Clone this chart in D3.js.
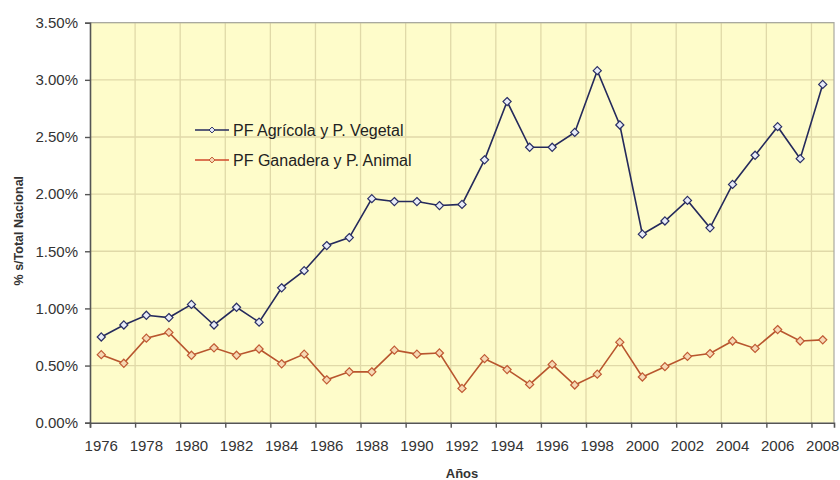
<!DOCTYPE html>
<html>
<head>
<meta charset="utf-8">
<script src="https://cdn.jsdelivr.net/npm/d3@7"></script>
<style>
  body { margin: 0; background: #fff; }
  svg text { font-family: "Liberation Sans", Arial, sans-serif; }
</style>
</head>
<body>
<div id="chart"></div>
<script>
// Data_____________________________________________________
const years = d3.range(1976, 2009);
const agricola = [0.75, 0.855, 0.94, 0.92, 1.035, 0.855, 1.01, 0.88, 1.18, 1.33,
  1.55, 1.62, 1.96, 1.935, 1.935, 1.9, 1.91, 2.30, 2.81, 2.41,
  2.41, 2.54, 3.08, 2.605, 1.65, 1.765, 1.945, 1.705, 2.085, 2.34,
  2.59, 2.31, 2.96];
const ganadera = [0.595, 0.52, 0.74, 0.79, 0.59, 0.655, 0.59, 0.645, 0.515, 0.6,
  0.375, 0.445, 0.445, 0.635, 0.6, 0.61, 0.30, 0.56, 0.465, 0.335,
  0.51, 0.33, 0.425, 0.705, 0.40, 0.49, 0.58, 0.605, 0.715, 0.65,
  0.815, 0.715, 0.725];
const seriesNames = ['PF Agrícola y P. Vegetal', 'PF Ganadera y P. Animal'];
const yTicks = [0, 0.5, 1, 1.5, 2, 2.5, 3, 3.5];

// Sizes_____________________________________________________
const width = 840;
const height = 480;
const plotLeft = 90, plotRight = 834, plotTop = 22.7, plotBottom = 422.7;

const svg = d3.select('#chart')
  .append('svg')
  .attr('width', width)
  .attr('height', height);

const x = d3.scaleBand().domain(years).range([plotLeft, plotRight]).padding(0);
const xEdge = d3.scaleLinear().domain([0, years.length]).range([plotLeft, plotRight]);
const y = d3.scaleLinear().domain([0, 3.5]).range([plotBottom, plotTop]);

// Plot area
svg.append('rect')
  .attr('x', plotLeft).attr('y', plotTop)
  .attr('width', plotRight - plotLeft).attr('height', plotBottom - plotTop)
  .attr('fill', '#fefcca');

// Grid
svg.append('g')
  .selectAll('line')
  .data(yTicks.slice(1))
  .enter().append('line')
  .attr('x1', plotLeft).attr('x2', plotRight)
  .attr('y1', d => y(d)).attr('y2', d => y(d))
  .attr('stroke', '#e0d9a8').attr('stroke-width', 1.3);

const edgeTicks = d3.range(2, years.length, 2);
svg.append('g')
  .selectAll('line')
  .data(edgeTicks)
  .enter().append('line')
  .attr('x1', d => xEdge(d)).attr('x2', d => xEdge(d))
  .attr('y1', plotTop).attr('y2', plotBottom)
  .attr('stroke', '#e0d9a8').attr('stroke-width', 1.3);

// Border top / right
svg.append('path')
  .attr('d', `M${plotLeft},${plotTop}H${plotRight}V${plotBottom}`)
  .attr('fill', 'none')
  .attr('stroke', '#a9a9a0').attr('stroke-width', 1.2);

// Y axis
const yAxis = svg.append('g')
  .attr('transform', `translate(${plotLeft},0)`)
  .call(d3.axisLeft(y).tickValues(yTicks).tickSize(5).tickPadding(7)
    .tickFormat(d => d.toFixed(2) + '%'));
yAxis.select('.domain').attr('stroke', '#555').attr('stroke-width', 1.6);
yAxis.selectAll('.tick line').attr('stroke', '#555').attr('stroke-width', 1.4);
yAxis.selectAll('text')
  .attr('font-size', 15).attr('fill', '#333');

// X axis ticks (between categories)
const xTickAxis = svg.append('g')
  .attr('transform', `translate(0,${plotBottom})`)
  .call(d3.axisBottom(xEdge).tickValues(d3.range(0, years.length + 1, 2)).tickSize(5).tickFormat(''));
xTickAxis.select('.domain').attr('stroke', '#555').attr('stroke-width', 1.6);
xTickAxis.selectAll('.tick line').attr('stroke', '#555').attr('stroke-width', 1.4);

// X axis labels
const xLabelAxis = svg.append('g')
  .attr('transform', `translate(0,${plotBottom})`)
  .call(d3.axisBottom(x).tickValues(years.filter((d, i) => i % 2 === 0)).tickSize(0).tickPadding(18));
xLabelAxis.select('.domain').remove();
xLabelAxis.selectAll('text')
  .attr('font-size', 15).attr('fill', '#333');

// Axis titles
svg.append('text')
  .attr('transform', `translate(23,${(plotTop + plotBottom) / 2 + 8}) rotate(-90)`)
  .attr('text-anchor', 'middle')
  .attr('font-size', 12.5)
  .attr('font-weight', 'bold')
  .attr('fill', '#333')
  .text('% s/Total Nacional');

svg.append('text')
  .attr('x', (plotLeft + plotRight) / 2)
  .attr('y', 478)
  .attr('text-anchor', 'middle')
  .attr('font-size', 13)
  .attr('font-weight', 'bold')
  .attr('fill', '#333')
  .text('Años');

// Series
const series = [
  { name: seriesNames[0], values: agricola, line: '#252a5c', mark: '#2a2f66', fill: '#e8ecf8' },
  { name: seriesNames[1], values: ganadera, line: '#b8562e', mark: '#c05a34', fill: '#f6d9b4' }
];

const line = d3.line()
  .x((d, i) => x(years[i]) + x.bandwidth() / 2)
  .y(d => y(d));

const diamond = d3.symbol().type(d3.symbolDiamond2).size(42);

series.forEach(s => {
  svg.append('path')
    .datum(s.values)
    .attr('d', line)
    .attr('fill', 'none')
    .attr('stroke', s.line)
    .attr('stroke-width', 1.6);

  svg.append('g')
    .selectAll('path')
    .data(s.values)
    .enter().append('path')
    .attr('d', diamond)
    .attr('transform', (d, i) => `translate(${x(years[i]) + x.bandwidth() / 2},${y(d)})`)
    .attr('fill', s.fill)
    .attr('stroke', s.mark)
    .attr('stroke-width', 1.2);
});

// Legend
const legend = svg.append('g')
  .attr('transform', 'translate(195,130)');

const legendItem = legend.selectAll('g')
  .data(series)
  .enter().append('g')
  .attr('transform', (d, i) => `translate(0,${i * 30})`);

legendItem.append('line')
  .attr('x1', 0).attr('x2', 34)
  .attr('stroke', (d, i) => i === 0 ? '#252a5c' : '#d0482a')
  .attr('stroke-width', 1.6);

legendItem.append('path')
  .attr('d', d3.symbol().type(d3.symbolDiamond2).size(22))
  .attr('transform', 'translate(17,0)')
  .attr('fill', d => d.fill)
  .attr('stroke', d => d.mark)
  .attr('stroke-width', 1);

legendItem.append('text')
  .attr('x', 38)
  .attr('y', 0)
  .attr('dy', '0.35em')
  .attr('font-size', 16)
  .attr('fill', '#222')
  .text(d => d.name);
</script>
</body>
</html>
